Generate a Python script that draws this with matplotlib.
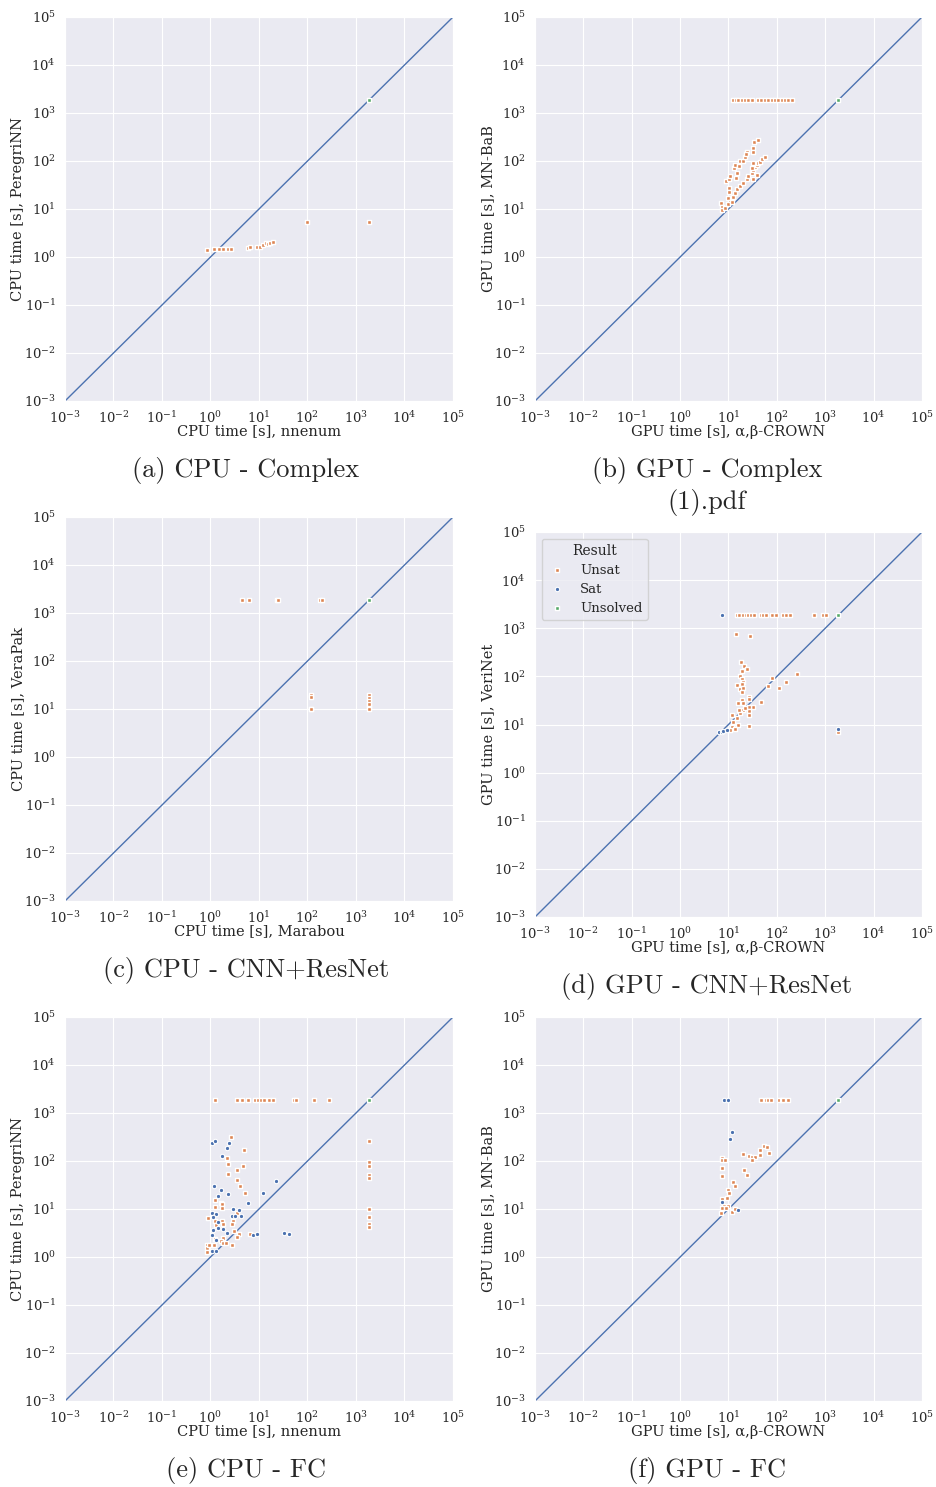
import numpy as np
import matplotlib as mpl
import matplotlib.pyplot as plt
import seaborn as sns

sns.set_style("darkgrid")
mpl.rcParams["font.family"] = "DejaVu Serif"
mpl.rcParams["mathtext.fontset"] = "dejavuserif"
mpl.rcParams["font.size"] = 10

TO = 1850  # timeout value

# (a) CPU - Complex
a_unsat_x = [0.85, 1.17, 1.5, 1.8, 2.3, 2.6, 5.9, 6.5, 9.1, 10.5, 12.3, 14, 15.5, 17, 19.5, 99, 1850]
a_unsat_y = [1.4, 1.45, 1.45, 1.45, 1.5, 1.5, 1.55, 1.6, 1.6, 1.65, 1.8, 2.0, 1.9, 2.0, 2.05, 5.4, 5.4]
a_sat_x = []
a_sat_y = []

# (b) GPU - Complex
b_unsat_x = [6.96, 7.3, 7.2, 8.8, 10.4, 10.7, 10.4, 10.2, 9.9, 10.7, 12.9, 13.6, 16.4, 17.2,
             20.2, 21.8, 23.6, 22.9, 32.5, 32.5, 34, 41, 14.7, 14.2,
             8.4, 9.9, 11.6, 12.5, 13.6, 14.7, 17.2, 20.2, 23.6, 25.6, 30, 32.5, 35.1, 38,
             32.5, 41, 44.6, 48.2, 56.5, 32.5, 38, 30,
             12.5, 14, 15.9, 18.6, 21.8, 25.6, 30, 41, 48, 56.5, 66, 78, 91, 106, 125, 146, 171, 201]
b_unsat_y = [13.5, 11.2, 9.5, 37.7, 41.5, 49.4, 27, 23, 16.7, 14.2, 71, 84, 79, 98,
             102, 119, 156, 140, 184, 156, 253, 274, 55, 45,
             10.3, 12.7, 14.2, 17.5, 21.2, 25.7, 30.1, 35.4, 41.5, 49.4, 55.3, 65, 74, 83,
             92, 89, 97, 108, 119, 41.5, 51, 70,
             TO, TO, TO, TO, TO, TO, TO, TO, TO, TO, TO, TO, TO, TO, TO, TO, TO, TO]
b_sat_x = []
b_sat_y = []

# (c) CPU - CNN+ResNet
c_unsat_x = [4.5, 6.3, 23, 25, 181, 202, 116, 116, 116, 116, 1850, 1850, 1850, 1850, 1850, 1850]
c_unsat_y = [TO, TO, TO, TO, TO, TO, 19.6, 17.5, 9.8, 10.2, 19.6, 16.7, 14.9, 11.5, 9.8, 12.5]
c_sat_x = []
c_sat_y = []

# (d) GPU - CNN+ResNet
d_unsat_x = [14.7, 16.4, 20, 22.5, 25.6, 29, 34, 46, 52, 61, 81, 95, 135, 151, 186, 581, 879, 1028,
             14.2, 27.7, 18, 20.8, 24.4, 19.2, 17.2, 18.6, 20.1, 14.7, 19.2, 17.2, 20.1, 19.2,
             78, 66, 158, 263, 112, 46, 26.4, 26.4, 18.6, 15.9, 31.4, 26.8, 26.4, 26.4, 20.1,
             17.2, 11.6, 14.7, 12.5, 15.4, 11.6, 13.6, 10.7, 26.4, 16.7, 20.1, 21.8, 1850]
d_unsat_y = [TO, TO, TO, TO, TO, TO, TO, TO, TO, TO, TO, TO, TO, TO, TO, TO, TO, TO,
             752, 706, 197, 165, 141, 130, 104, 89, 78, 65, 69, 55, 56, 47,
             91, 63, 76, 113, 56, 29.5, 38, 33.5, 32.4, 27.7, 22.9, 23.6, 19.4, 16, 20,
             17.1, 15.8, 13.5, 11.5, 9.8, 8.8, 8, 7.7, 9.1, 20, 27.7, 21.8, 6.9]
d_sat_x = [7.2, 6.45, 7.4, 7.8, 9.1, 1850]
d_sat_y = [TO, 6.9, 7.1, 7.5, 7.7, 8.1]

# (e) CPU - FC
e_unsat_x = [1.24, 3.6, 4.4, 6.0, 8.3, 9.7, 10.8, 12.7, 16.1, 19.1, 53, 58, 138, 277,
             1850, 1850, 1850, 1850, 1850, 1850, 1850, 1850, 1850,
             2.6, 5.0, 2.15, 2.33, 4.6, 3.46, 2.33, 3.46, 4.06, 5.1, 1.24, 1.62, 1.75, 1.26, 1.7,
             0.87, 3.46, 2.86, 1.24, 1.7, 1.84, 1.3, 2.73, 3.1, 3.86, 6.5, 3.46, 1.84, 1.24,
             1.62, 1.78, 0.86, 1.2, 2.73, 0.86, 0.86, 2.08, 0.93]
e_unsat_y = [TO, TO, TO, TO, TO, TO, TO, TO, TO, TO, TO, TO, TO, TO,
             266, 97, 79, 51, 45, 9.8, 6.7, 4.8, 4.2,
             311, 169, 117, 85, 79, 65, 54, 40, 30, 21.2, 15.1, 13.5, 12.5, 11.2, 10.3,
             6.6, 8.4, 5.7, 5.7, 5.6, 4.8, 4.6, 4.9, 3.54, 2.96, 3.0, 2.57, 2.45, 2.33,
             2.15, 1.93, 1.78, 1.78, 1.78, 1.52, 1.29, 1.93, 1.75]
e_sat_x = [1.09, 1.24, 2.44, 2.15, 1.75, 1.2, 1.67, 2.33, 1.45, 22.4, 11.9, 6.0, 2.95, 3.86,
           2.73, 3.2, 4.26, 1.09, 1.28, 1.1, 1.4, 1.43, 1.78, 1.12, 2.22, 1.06, 1.3, 7.4, 8.9,
           32.7, 42, 1.06, 1.3]
e_sat_y = [233, 257, 237, 190, 125, 30.6, 24.5, 20.2, 18.4, 37.7, 21.9, 13.1, 10.2, 9.4,
           7.1, 7.1, 7.3, 8.1, 7.9, 6.9, 5.4, 4.1, 3.9, 3.65, 3.1, 2.87, 2.26, 2.87, 2.96,
           3.2, 3.0, 1.36, 1.31]

# (f) GPU - FC
f_unsat_x = [46, 59, 66, 75, 112, 125, 135, 166,
             54, 62, 70, 45, 45, 19.6, 26, 30.4, 35, 30.9, 7.3, 7.5, 8.4, 7.5, 7.5, 20.8, 24,
             12.5, 13.6, 9.7, 10.4, 9.1, 7.2, 8.2, 9.6, 7.2, 6.9, 11.6, 13.6, 8.7]
f_unsat_y = [TO, TO, TO, TO, TO, TO, TO, TO,
             209, 199, 145, 172, 133, 140, 129, 123, 119, 103, 117, 103, 103, 71, 49, 66, 52,
             36, 30.6, 24.9, 21.2, 17.2, 16.2, 11.5, 11.7, 10.7, 8.4, 8.8, 10.2, 10.3]
f_sat_x = [8.2, 9.6, 11.9, 10.9, 7.2, 15.6]
f_sat_y = [TO, TO, 402, 283, 13.8, 9.5]

panels = [
    ("a", a_unsat_x, a_unsat_y, a_sat_x, a_sat_y, "CPU time [s], nnenum", "CPU time [s], PeregriNN"),
    ("b", b_unsat_x, b_unsat_y, b_sat_x, b_sat_y, "GPU time [s], α,β-CROWN", "GPU time [s], MN-BaB"),
    ("c", c_unsat_x, c_unsat_y, c_sat_x, c_sat_y, "CPU time [s], Marabou", "CPU time [s], VeraPak"),
    ("d", d_unsat_x, d_unsat_y, d_sat_x, d_sat_y, "GPU time [s], α,β-CROWN", "GPU time [s], VeriNet"),
    ("e", e_unsat_x, e_unsat_y, e_sat_x, e_sat_y, "CPU time [s], nnenum", "CPU time [s], PeregriNN"),
    ("f", f_unsat_x, f_unsat_y, f_sat_x, f_sat_y, "GPU time [s], α,β-CROWN", "GPU time [s], MN-BaB"),
]
captions = ["(a) CPU - Complex", "(b) GPU - Complex", "(1).pdf", "(c) CPU - CNN+ResNet",
            "(d) GPU - CNN+ResNet", "(e) CPU - FC", "(f) GPU - FC"]

W, H = 937, 1487
# axes boxes in pixels: left, top, right, bottom
boxes = [(65, 17, 453, 401), (535, 17, 922, 401),
         (65, 517, 453, 901), (535, 532, 922, 917),
         (65, 1017, 453, 1401), (535, 1017, 922, 1401)]
cap_pos = [(246, 470), (707, 471), (707, 503), (246, 970), (707, 987), (246, 1470), (707, 1470)]

c_unsat = "#DD8452"
c_sat = "#4C72B0"
c_uns = "#55A868"
ticks = [10.0 ** k for k in range(-3, 6)]

fig = plt.figure(figsize=(W / 100, H / 100), dpi=100)
for (name, ux, uy, sx, sy, xl, yl), (l, t, r, b) in zip(panels, boxes):
    ax = fig.add_axes([l / W, 1 - b / H, (r - l) / W, (b - t) / H])
    ax.set_xscale("log")
    ax.set_yscale("log")
    ax.plot([1e-3, 1e5], [1e-3, 1e5], color=c_sat, lw=1, zorder=2)
    ax.scatter(ux, uy, marker="s", s=7, color=c_unsat, edgecolor="white", linewidth=1.0,
               zorder=3, label="Unsat")
    ax.scatter(sx, sy, marker="o", s=10, color=c_sat, edgecolor="white", linewidth=0.8,
               zorder=3, label="Sat")
    ax.scatter([TO], [TO], marker="s", s=8, color=c_uns, edgecolor="white", linewidth=1.0,
               zorder=3, label="Unsolved")
    ax.set_xlim(1e-3, 1e5)
    ax.set_ylim(1e-3, 1e5)
    ax.set_xticks(ticks)
    ax.set_yticks(ticks)
    ax.minorticks_off()
    ax.tick_params(labelsize=9.5, pad=3)
    ax.set_xlabel(xl, fontsize=10.5, labelpad=-1)
    ax.set_ylabel(yl, fontsize=10.5, labelpad=-1)
    if name == "d":
        ax.legend(title="Result", loc="upper left", fontsize=9.5, title_fontsize=10,
                  frameon=True, markerscale=1.0, handlelength=1.6, handletextpad=0.9,
                  labelspacing=0.45, borderpad=0.4)

for txt, (x, y) in zip(captions, cap_pos):
    fig.text(x / W, 1 - y / H, txt, family="cmr10", fontsize=19, ha="center", va="center")

fig.savefig("out.png", dpi=100)
